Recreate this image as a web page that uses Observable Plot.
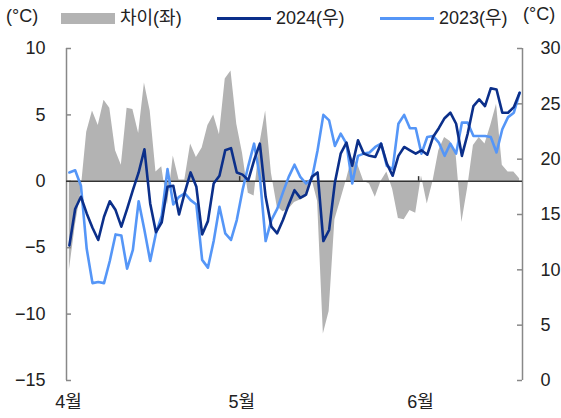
<!DOCTYPE html>
<html>
<head>
<meta charset="utf-8">
<script src="https://cdn.jsdelivr.net/npm/d3@7"></script>
<script src="https://cdn.jsdelivr.net/npm/@observablehq/plot@0.6"></script>
<style>
  body { margin: 0; background: #fff; }
  #wrap { width: 561px; font-family: "Liberation Sans", "Noto Sans CJK KR", sans-serif; color: #222; }
  #legend { position: relative; height: 36px; font-size: 18px; }
  #legend span { position: absolute; line-height: 20px; white-space: nowrap; }
  #legend .sw { position: absolute; }
</style>
</head>
<body>
<div id="wrap">
  <div id="legend">
    <span style="left:6px; top:6px;">(°C)</span>
    <div class="sw" style="left:61px; top:13px; width:54px; height:11px; background:#b3b3b3;"></div>
    <span style="left:120px; top:8px;">차이(좌)</span>
    <div class="sw" style="left:217px; top:17px; width:54px; height:3px; background:#0b2f8a;"></div>
    <span style="left:276px; top:8px;">2024(우)</span>
    <div class="sw" style="left:380px; top:17px; width:54px; height:3px; background:#5596f7;"></div>
    <span style="left:439px; top:8px;">2023(우)</span>
    <span style="left:523px; top:4px;">(°C)</span>
  </div>
  <div id="chart"></div>
</div>
<script>
// Daily mean temperature, 1 Apr - 18 Jun
const startDate = "2024-04-01";
const t2024 = [12.2,15.5,16.6,15.1,13.8,12.7,14.8,16.2,15.4,13.9,
  15.5,17.2,18.8,20.9,16.0,13.4,14.3,17.5,17.6,15.0,
  17.0,18.8,17.5,13.2,14.4,17.8,18.5,20.8,21.0,18.8,
  18.6,18.1,19.9,21.4,16.6,13.9,13.3,14.5,15.9,17.2,
  16.5,16.8,18.4,18.8,12.6,13.6,17.9,20.5,21.5,19.4,
  21.7,20.5,20.3,20.2,21.4,19.6,18.5,20.3,21.1,20.8,
  20.5,20.8,20.4,22.0,22.8,23.7,24.2,23.2,20.3,22.3,
  24.8,25.4,24.8,26.4,26.3,24.2,24.2,24.7,26.0];
const t2023 = [18.8,19.0,17.6,11.9,8.8,8.9,8.8,10.8,13.2,13.1,
  10.1,11.8,16.2,13.6,10.8,13.3,14.9,19.1,15.9,16.6,
  16.9,16.3,15.9,10.9,10.2,12.6,15.7,13.3,12.7,14.5,
  17.2,19.4,21.4,18.4,12.6,14.5,15.5,17.0,18.4,19.5,
  18.4,17.8,18.2,20.8,24.0,23.5,21.2,22.3,21.4,17.8,
  20.3,20.5,20.6,21.1,21.4,19.4,19.1,23.2,24.0,22.8,
  22.8,20.5,22.0,22.1,21.5,20.3,21.4,20.5,23.3,23.3,
  22.1,22.1,22.1,22.0,20.6,22.7,23.8,24.2,26.0];
const diff = [-6.7,-3.4,-0.8,3.7,5.3,4.2,6.1,5.5,2.3,1.2,
  5.5,5.4,3.6,7.4,5.3,0.7,1.1,-1.8,1.9,0.1,
  0.1,2.8,1.8,2.5,4.2,5.0,3.5,7.7,8.3,4.3,
  2.1,-0.9,-1.1,2.8,5.3,0.6,-1.9,-2.3,-2.1,-1.6,
  -1.4,-1.2,0.2,-1.5,-11.5,-9.8,-2.9,-1.4,0.1,1.8,
  1.2,0.0,-0.2,-1.2,0.0,0.7,-0.6,-2.8,-2.9,-2.2,
  -2.4,0.4,-1.7,0.0,2.3,3.3,3.0,2.0,-3.1,-0.5,
  2.7,3.3,2.8,4.2,5.8,1.2,0.7,0.7,0.2];
const leftTicks = [-15, -10, -5, 0, 5, 10];
const rightTicks = [0, 5, 10, 15, 20, 25, 30];
const monthTicks = ["2024-04-01", "2024-05-01", "2024-06-01"];
const monthLabels = ["4월", "5월", "6월"];

const leftDomain = [-15, 10];
const rightDomain = [0, 30];
const toLeft = t => leftDomain[0] + (t - rightDomain[0]) * (leftDomain[1] - leftDomain[0]) / (rightDomain[1] - rightDomain[0]);
const toRight = v => rightDomain[0] + (v - leftDomain[0]) * (rightDomain[1] - rightDomain[0]) / (leftDomain[1] - leftDomain[0]);

const d0 = new Date(startDate + "T00:00:00Z");
const day = i => new Date(d0.getTime() + (i + 0.5) * 864e5);
const rows = t2024.map((v, i) => ({date: day(i), t24: v, t23: t2023[i], diff: diff[i]}));
const xMin = d0;
const xMax = new Date(d0.getTime() + t2024.length * 864e5);
const mTicks = monthTicks.map(s => new Date(s + "T00:00:00Z"));

const W = 561, H = 382, mL = 66, mR = 39, mT = 12, mB = 38;
const plotW = W - mL - mR;
const axisGray = "#888";

const chart = Plot.plot({
  width: W, height: H,
  marginLeft: mL, marginRight: mR, marginTop: mT, marginBottom: mB,
  style: {fontSize: "18px", fontFamily: "'Liberation Sans', 'Noto Sans CJK KR', sans-serif", color: "#222", background: "#fff"},
  x: {type: "utc", domain: [xMin, xMax]},
  y: {domain: leftDomain},
  marks: [
    Plot.areaY(rows, {x: "date", y: "diff", fill: "#b3b3b3", curve: "linear"}),
    Plot.ruleX([xMin], {stroke: axisGray, strokeWidth: 1.5}),
    Plot.ruleX([xMax], {stroke: axisGray, strokeWidth: 1.5}),
    Plot.tickY(leftTicks, {y: d => d, insetRight: plotW - 5, stroke: axisGray, strokeWidth: 1.5}),
    Plot.tickY(rightTicks.map(toLeft), {y: d => d, insetLeft: plotW - 5, stroke: axisGray, strokeWidth: 1.5}),
    Plot.ruleY([0], {stroke: "#333", strokeWidth: 1.5}),
    Plot.ruleX(mTicks.slice(1), {y1: 0, y2: 0.35, stroke: "#333", strokeWidth: 1.5}),
    Plot.line(rows, {x: "date", y: d => toLeft(d.t23), stroke: "#5596f7", strokeWidth: 2.6}),
    Plot.line(rows, {x: "date", y: d => toLeft(d.t24), stroke: "#0b2f8a", strokeWidth: 2.6}),
    Plot.axisY({anchor: "left", ticks: leftTicks, tickSize: 0, tickPadding: 21, label: null,
      tickFormat: v => String(v).replace("-", "\u2212")}),
    Plot.axisY({anchor: "right", ticks: rightTicks.map(toLeft), tickSize: 0, tickPadding: 18, label: null,
      tickFormat: v => String(Math.round(toRight(v)))}),
    Plot.axisX({anchor: "bottom", ticks: mTicks, tickSize: 0, tickPadding: 15, label: null, dx: 2,
      tickFormat: (d, i) => monthLabels[i]})
  ]
});
document.getElementById("chart").appendChild(chart);
</script>
</body>
</html>
